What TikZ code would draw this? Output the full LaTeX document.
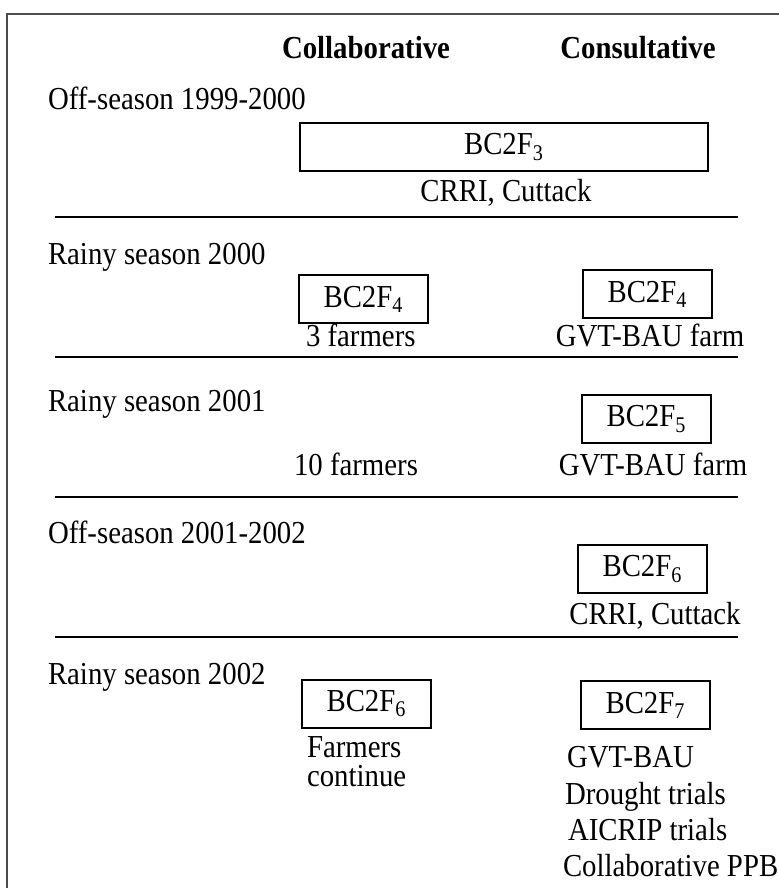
\documentclass[tikz,border=0pt]{standalone}
\usepackage{fontspec}
\setmainfont[FakeStretch=0.9]{Liberation Serif}
\begin{document}
\begin{tikzpicture}[x=0.5pt,y=-0.5pt,
  every node/.style={inner sep=0pt, outer sep=0pt, font=\fontsize{16}{19}\selectfont},
  box/.style={draw, line width=1pt, minimum width=64.5pt, minimum height=24pt},
  sep/.style={line width=1pt},
  frame/.style={draw=black!70, line width=0.7pt},
  lbl/.style={anchor=base west},
  ctr/.style={anchor=base}]
\useasboundingbox (0,0) rectangle (779,888);
% frame
\coordinate (fb) at (7,888);
\coordinate (fc) at (7,14);
\coordinate (fr) at (779,14);
\draw[frame] (fb) -- (fc) -- (fr);
% headers
\node[ctr] (hcol) at (366,59) {\textbf{Collaborative}};
\node[ctr] (hcon) at (638,59) {\textbf{Consultative}};
% section 1
\node[lbl] (s1) at (48,110) {Off-season 1999-2000};
\node[box, minimum width=204pt] (b3) at (504,147) {BC2F\textsubscript{3}};
\node[ctr] (c1) at (506,201) {CRRI, Cuttack};
\coordinate (l1a) at (55,217); \coordinate (l1b) at (738,217);
\draw[sep] (l1a) -- (l1b);
% section 2
\node[lbl] (s2) at (48,264) {Rainy season 2000};
\node[box] (b4a) at (363.5,299) {BC2F\textsubscript{4}};
\node[box] (b4b) at (647.5,294) {BC2F\textsubscript{4}};
\node[lbl] (t3f) at (306,346) {3 farmers};
\node[ctr] (g1) at (650,346) {GVT-BAU farm};
\coordinate (l2a) at (55,357); \coordinate (l2b) at (738,357);
\draw[sep] (l2a) -- (l2b);
% section 3
\node[lbl] (s3) at (48,411) {Rainy season 2001};
\node[box] (b5) at (646.5,419) {BC2F\textsubscript{5}};
\node[ctr] (t10f) at (356,475) {10 farmers};
\node[ctr] (g2) at (653,475) {GVT-BAU farm};
\coordinate (l3a) at (55,497); \coordinate (l3b) at (738,497);
\draw[sep] (l3a) -- (l3b);
% section 4
\node[lbl] (s4) at (48,543) {Off-season 2001-2002};
\node[box] (b6b) at (642.5,569) {BC2F\textsubscript{6}};
\node[ctr] (c2) at (655,624) {CRRI, Cuttack};
\coordinate (l4a) at (55,637); \coordinate (l4b) at (738,637);
\draw[sep] (l4a) -- (l4b);
% section 5
\node[lbl] (s5) at (48,684) {Rainy season 2002};
\node[box] (b6a) at (366.5,703.5) {BC2F\textsubscript{6}};
\node[box] (b7) at (645.5,705) {BC2F\textsubscript{7}};
\node[lbl] (fa) at (307,757) {Farmers};
\node[lbl] (fc2) at (307,786) {continue};
\node[lbl] (r1) at (567,767) {GVT-BAU};
\node[lbl] (r2) at (565,804) {Drought trials};
\node[lbl] (r3) at (568,840) {AICRIP trials};
\node[lbl] (r4) at (563,876) {Collaborative PPB};
\end{tikzpicture}
\end{document}
